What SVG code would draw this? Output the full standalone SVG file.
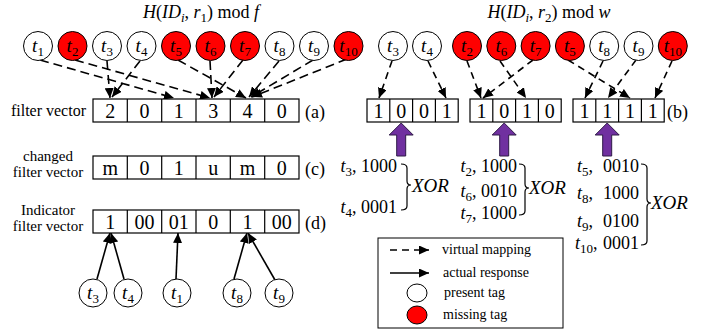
<svg xmlns="http://www.w3.org/2000/svg" width="718" height="331" viewBox="0 0 718 331">
  <style>
    text { font-family: "Liberation Serif", "Times New Roman", serif; fill: #000; }
    .it { font-style: italic; }
    .tag { fill: #fff; stroke: #000; stroke-width: 1; }
    .miss { fill: #ff0000; stroke: #000; stroke-width: 1; }
    .lbl { font-size: 19px; text-anchor: middle; }
    .sub { font-size: 13px; }
    .cell { fill: #fff; stroke: #000; stroke-width: 1.2; }
    .div { stroke: #000; stroke-width: 1.2; }
    .val { font-size: 20px; text-anchor: middle; }
    .side { font-size: 15px; text-anchor: middle; }
    .tagk { font-size: 18px; }
    .dash { fill: none; stroke: #000; stroke-width: 1.6; stroke-dasharray: 9 5; marker-end: url(#ah); }
    .dashr { fill: none; stroke: #000; stroke-width: 1.6; stroke-dasharray: 7 5; marker-end: url(#ah); }
    .solid { fill: none; stroke: #000; stroke-width: 1.6; marker-end: url(#ah); }
    .brace { fill: none; stroke: #000; stroke-width: 1.2; }
    .push { fill: #7030a0; stroke: #2e1a47; stroke-width: 1; }
    .leg { font-size: 14px; }
  </style>
  <defs>
    <marker id="ah" markerUnits="userSpaceOnUse" markerWidth="11" markerHeight="9" refX="10" refY="4.5" orient="auto">
      <path d="M0,0 L10,4.5 L0,9 z" fill="#000"/>
    </marker>
  </defs>

  <!-- headings -->
  <text x="201" y="18" text-anchor="middle" font-size="18"><tspan class="it">H</tspan>(<tspan class="it">ID</tspan><tspan class="it sub" dy="4">i</tspan><tspan dy="-4">, </tspan><tspan class="it">r</tspan><tspan class="sub" dy="4">1</tspan><tspan dy="-4">) mod </tspan><tspan class="it">f</tspan></text>
  <text x="549" y="18" text-anchor="middle" font-size="18"><tspan class="it">H</tspan>(<tspan class="it">ID</tspan><tspan class="it sub" dy="4">i</tspan><tspan dy="-4">, </tspan><tspan class="it">r</tspan><tspan class="sub" dy="4">2</tspan><tspan dy="-4">) mod </tspan><tspan class="it">w</tspan></text>

  <!-- connectors -->
  <g id="connectors">
    <!-- mapping into the filter vector -->
    <path class="dash" d="M40,60 L174,98"/>
    <path class="dash" d="M75,60 L210,98"/>
    <path class="dash" d="M107,61 L110,98"/>
    <path class="dash" d="M140,61 L112,97"/>
    <path class="dash" d="M178,60 L246,98"/>
    <path class="dash" d="M210,61 L212,98"/>
    <path class="dash" d="M243,60 L214,97"/>
    <path class="dash" d="M279,61 L249,97"/>
    <path class="dash" d="M313,60 L251,97"/>
    <path class="dash" d="M347,59 L252,97"/>
    <!-- mapping into the three bit segments -->
    <path class="dashr" d="M392,61 L379,98"/>
    <path class="dashr" d="M428,61 L446,98"/>
    <path class="dashr" d="M467,61 L481,98"/>
    <path class="dashr" d="M500,61 L526,98"/>
    <path class="dashr" d="M533,60 L483,98"/>
    <path class="dashr" d="M568,60 L630,98"/>
    <path class="dashr" d="M603,61 L585,98"/>
    <path class="dashr" d="M636,60 L608,98"/>
    <path class="dashr" d="M672,61 L655,98"/>
    <!-- responses into the indicator vector -->
    <path class="solid" d="M97,279 L110,233"/>
    <path class="solid" d="M124,279 L111,233"/>
    <path class="solid" d="M176,279 L178,233"/>
    <path class="solid" d="M234,279 L247,233"/>
    <path class="solid" d="M275,280 L248,233"/>
  </g>

  <!-- top tags, left -->
  <g id="tag-l1"><circle class="tag" cx="38" cy="46" r="14.5"/><text class="lbl" x="38" y="52"><tspan class="it">t</tspan><tspan class="sub" dy="4">1</tspan></text></g>
  <g id="tag-l2"><circle class="miss" cx="72.5" cy="46" r="14.5"/><text class="lbl" x="72.5" y="52"><tspan class="it">t</tspan><tspan class="sub" dy="4">2</tspan></text></g>
  <g id="tag-l3"><circle class="tag" cx="107" cy="46" r="14.5"/><text class="lbl" x="107" y="52"><tspan class="it">t</tspan><tspan class="sub" dy="4">3</tspan></text></g>
  <g id="tag-l4"><circle class="tag" cx="141.5" cy="46" r="14.5"/><text class="lbl" x="141.5" y="52"><tspan class="it">t</tspan><tspan class="sub" dy="4">4</tspan></text></g>
  <g id="tag-l5"><circle class="miss" cx="176" cy="46" r="14.5"/><text class="lbl" x="176" y="52"><tspan class="it">t</tspan><tspan class="sub" dy="4">5</tspan></text></g>
  <g id="tag-l6"><circle class="miss" cx="210.5" cy="46" r="14.5"/><text class="lbl" x="210.5" y="52"><tspan class="it">t</tspan><tspan class="sub" dy="4">6</tspan></text></g>
  <g id="tag-l7"><circle class="miss" cx="245" cy="46" r="14.5"/><text class="lbl" x="245" y="52"><tspan class="it">t</tspan><tspan class="sub" dy="4">7</tspan></text></g>
  <g id="tag-l8"><circle class="tag" cx="279.5" cy="46" r="14.5"/><text class="lbl" x="279.5" y="52"><tspan class="it">t</tspan><tspan class="sub" dy="4">8</tspan></text></g>
  <g id="tag-l9"><circle class="tag" cx="314" cy="46" r="14.5"/><text class="lbl" x="314" y="52"><tspan class="it">t</tspan><tspan class="sub" dy="4">9</tspan></text></g>
  <g id="tag-l10"><circle class="miss" cx="348.5" cy="46" r="14.5"/><text class="lbl" x="348.5" y="52"><tspan class="it">t</tspan><tspan class="sub" dy="4">10</tspan></text></g>

  <!-- top tags, right -->
  <g id="tag-r3"><circle class="tag" cx="393" cy="46" r="14.5"/><text class="lbl" x="393" y="52"><tspan class="it">t</tspan><tspan class="sub" dy="4">3</tspan></text></g>
  <g id="tag-r4"><circle class="tag" cx="427" cy="46" r="14.5"/><text class="lbl" x="427" y="52"><tspan class="it">t</tspan><tspan class="sub" dy="4">4</tspan></text></g>
  <g id="tag-r2"><circle class="miss" cx="467" cy="46" r="14.5"/><text class="lbl" x="467" y="52"><tspan class="it">t</tspan><tspan class="sub" dy="4">2</tspan></text></g>
  <g id="tag-r6"><circle class="miss" cx="501.3" cy="46" r="14.5"/><text class="lbl" x="501.3" y="52"><tspan class="it">t</tspan><tspan class="sub" dy="4">6</tspan></text></g>
  <g id="tag-r7"><circle class="miss" cx="535.6" cy="46" r="14.5"/><text class="lbl" x="535.6" y="52"><tspan class="it">t</tspan><tspan class="sub" dy="4">7</tspan></text></g>
  <g id="tag-r5"><circle class="miss" cx="569.9" cy="46" r="14.5"/><text class="lbl" x="569.9" y="52"><tspan class="it">t</tspan><tspan class="sub" dy="4">5</tspan></text></g>
  <g id="tag-r8"><circle class="tag" cx="604.2" cy="46" r="14.5"/><text class="lbl" x="604.2" y="52"><tspan class="it">t</tspan><tspan class="sub" dy="4">8</tspan></text></g>
  <g id="tag-r9"><circle class="tag" cx="638.5" cy="46" r="14.5"/><text class="lbl" x="638.5" y="52"><tspan class="it">t</tspan><tspan class="sub" dy="4">9</tspan></text></g>
  <g id="tag-r10"><circle class="miss" cx="672.8" cy="46" r="14.5"/><text class="lbl" x="672.8" y="52"><tspan class="it">t</tspan><tspan class="sub" dy="4">10</tspan></text></g>

  <!-- (a) filter vector -->
  <g id="vec-a">
    <text x="86" y="116" font-size="16" text-anchor="end">filter vector</text>
    <rect class="cell" x="93" y="99" width="206" height="23"/>
    <path class="div" d="M127.3,99 V122 M161.7,99 V122 M196,99 V122 M230.3,99 V122 M264.7,99 V122"/>
    <text class="val" x="110.2" y="118">2</text>
    <text class="val" x="144.5" y="118">0</text>
    <text class="val" x="178.8" y="118">1</text>
    <text class="val" x="213.2" y="118">3</text>
    <text class="val" x="247.5" y="118">4</text>
    <text class="val" x="281.8" y="118">0</text>
    <text x="305" y="118" font-size="18">(a)</text>
  </g>

  <!-- (b) bit segments -->
  <g id="vec-b1">
    <rect class="cell" x="367" y="99" width="91.2" height="23"/>
    <path class="div" d="M389.8,99 V122 M412.6,99 V122 M435.4,99 V122"/>
    <text class="val" x="378.4" y="118">1</text>
    <text class="val" x="401.2" y="118">0</text>
    <text class="val" x="424" y="118">0</text>
    <text class="val" x="446.8" y="118">1</text>
  </g>
  <g id="vec-b2">
    <rect class="cell" x="470" y="99" width="91.2" height="23"/>
    <path class="div" d="M492.8,99 V122 M515.6,99 V122 M538.4,99 V122"/>
    <text class="val" x="481.4" y="118">1</text>
    <text class="val" x="504.2" y="118">0</text>
    <text class="val" x="527" y="118">1</text>
    <text class="val" x="549.8" y="118">0</text>
  </g>
  <g id="vec-b3">
    <rect class="cell" x="573" y="99" width="91.2" height="23"/>
    <path class="div" d="M595.8,99 V122 M618.6,99 V122 M641.4,99 V122"/>
    <text class="val" x="584.4" y="118">1</text>
    <text class="val" x="607.2" y="118">1</text>
    <text class="val" x="630" y="118">1</text>
    <text class="val" x="652.8" y="118">1</text>
    <text x="667" y="118" font-size="18">(b)</text>
  </g>

  <!-- upward block arrows under each segment -->
  <g id="push-arrows">
    <polygon class="push" points="401.2,123 413.2,135 405.7,135 405.7,156 396.7,156 396.7,135 389.2,135"/>
    <polygon class="push" points="504.2,123 516.2,135 508.7,135 508.7,156 499.7,156 499.7,135 492.2,135"/>
    <polygon class="push" points="607.2,123 619.2,135 611.7,135 611.7,156 602.7,156 602.7,135 595.2,135"/>
  </g>

  <!-- (c) changed filter vector -->
  <g id="vec-c">
    <text class="side" x="48" y="161">changed</text>
    <text class="side" x="48" y="177">filter vector</text>
    <rect class="cell" x="93" y="156" width="206" height="23"/>
    <path class="div" d="M127.3,156 V179 M161.7,156 V179 M196,156 V179 M230.3,156 V179 M264.7,156 V179"/>
    <text class="val" x="110.2" y="175">m</text>
    <text class="val" x="144.5" y="175">0</text>
    <text class="val" x="178.8" y="175">1</text>
    <text class="val" x="213.2" y="175">u</text>
    <text class="val" x="247.5" y="175">m</text>
    <text class="val" x="281.8" y="175">0</text>
    <text x="305" y="175" font-size="18">(c)</text>
  </g>

  <!-- (d) indicator filter vector -->
  <g id="vec-d">
    <text class="side" x="48" y="215">Indicator</text>
    <text class="side" x="48" y="231">filter vector</text>
    <rect class="cell" x="93" y="210" width="206" height="23"/>
    <path class="div" d="M127.3,210 V233 M161.7,210 V233 M196,210 V233 M230.3,210 V233 M264.7,210 V233"/>
    <text class="val" x="110.2" y="229">1</text>
    <text class="val" x="144.5" y="229">00</text>
    <text class="val" x="178.8" y="229">01</text>
    <text class="val" x="213.2" y="229">0</text>
    <text class="val" x="247.5" y="229">1</text>
    <text class="val" x="281.8" y="229">00</text>
    <text x="305" y="229" font-size="18">(d)</text>
  </g>

  <!-- bottom responding tags -->
  <g id="tag-b3"><circle class="tag" cx="93" cy="293" r="14"/><text class="lbl" x="93" y="299"><tspan class="it">t</tspan><tspan class="sub" dy="4">3</tspan></text></g>
  <g id="tag-b4"><circle class="tag" cx="128" cy="293" r="14"/><text class="lbl" x="128" y="299"><tspan class="it">t</tspan><tspan class="sub" dy="4">4</tspan></text></g>
  <g id="tag-b1"><circle class="tag" cx="177" cy="293" r="14"/><text class="lbl" x="177" y="299"><tspan class="it">t</tspan><tspan class="sub" dy="4">1</tspan></text></g>
  <g id="tag-b8"><circle class="tag" cx="237" cy="293" r="14"/><text class="lbl" x="237" y="299"><tspan class="it">t</tspan><tspan class="sub" dy="4">8</tspan></text></g>
  <g id="tag-b9"><circle class="tag" cx="279" cy="293" r="14"/><text class="lbl" x="279" y="299"><tspan class="it">t</tspan><tspan class="sub" dy="4">9</tspan></text></g>

  <!-- XOR group 1 -->
  <g id="xor-1">
    <text class="tagk" x="397" y="172" text-anchor="end"><tspan class="it">t</tspan><tspan class="sub" dy="4">3</tspan><tspan dy="-4">, 1000</tspan></text>
    <text class="tagk" x="397" y="213" text-anchor="end"><tspan class="it">t</tspan><tspan class="sub" dy="4">4</tspan><tspan dy="-4">, 0001</tspan></text>
    <path class="brace" d="M401,164 Q407,164 407,168 L407,181 Q407,185 411,185 Q407,185 407,189 L407,206 Q407,210 401,210"/>
    <text class="it" x="412" y="192" font-size="19">XOR</text>
  </g>

  <!-- XOR group 2 -->
  <g id="xor-2">
    <text class="tagk" x="517" y="172" text-anchor="end"><tspan class="it">t</tspan><tspan class="sub" dy="4">2</tspan><tspan dy="-4">, 1000</tspan></text>
    <text class="tagk" x="517" y="197" text-anchor="end"><tspan class="it">t</tspan><tspan class="sub" dy="4">6</tspan><tspan dy="-4">, 0010</tspan></text>
    <text class="tagk" x="517" y="219" text-anchor="end"><tspan class="it">t</tspan><tspan class="sub" dy="4">7</tspan><tspan dy="-4">, 1000</tspan></text>
    <path class="brace" d="M519,164 Q525,164 525,168 L525,184 Q525,188 529,188 Q525,188 525,192 L525,211 Q525,215 519,215"/>
    <text class="it" x="529" y="194" font-size="19">XOR</text>
  </g>

  <!-- XOR group 3 -->
  <g id="xor-3">
    <text class="tagk" x="577" y="172"><tspan class="it">t</tspan><tspan class="sub" dy="4">5</tspan><tspan dy="-4">,</tspan></text>
    <text class="tagk" x="603" y="172">0010</text>
    <text class="tagk" x="577" y="199"><tspan class="it">t</tspan><tspan class="sub" dy="4">8</tspan><tspan dy="-4">,</tspan></text>
    <text class="tagk" x="603" y="199">1000</text>
    <text class="tagk" x="577" y="227"><tspan class="it">t</tspan><tspan class="sub" dy="4">9</tspan><tspan dy="-4">,</tspan></text>
    <text class="tagk" x="603" y="227">0100</text>
    <text class="tagk" x="575" y="249"><tspan class="it">t</tspan><tspan class="sub" dy="4">10</tspan><tspan dy="-4">,</tspan></text>
    <text class="tagk" x="603" y="249">0001</text>
    <path class="brace" d="M641,164 Q647,164 647,168 L647,199 Q647,203 651,203 Q647,203 647,207 L647,241 Q647,245 641,245"/>
    <text class="it" x="651" y="209" font-size="19">XOR</text>
  </g>

  <!-- legend -->
  <g id="legend">
    <rect x="378" y="238" width="185" height="90" fill="#fff" stroke="#000" stroke-width="1"/>
    <path class="dashr" d="M390,250 L429,250"/>
    <text class="leg" x="442" y="254">virtual mapping</text>
    <path class="solid" d="M390,273 L429,273"/>
    <text class="leg" x="443" y="277">actual response</text>
    <ellipse class="tag" cx="417" cy="293" rx="10" ry="9"/>
    <text class="leg" x="444" y="297">present tag</text>
    <ellipse class="miss" cx="417" cy="315" rx="10" ry="9"/>
    <text class="leg" x="443" y="319">missing tag</text>
  </g>
</svg>
